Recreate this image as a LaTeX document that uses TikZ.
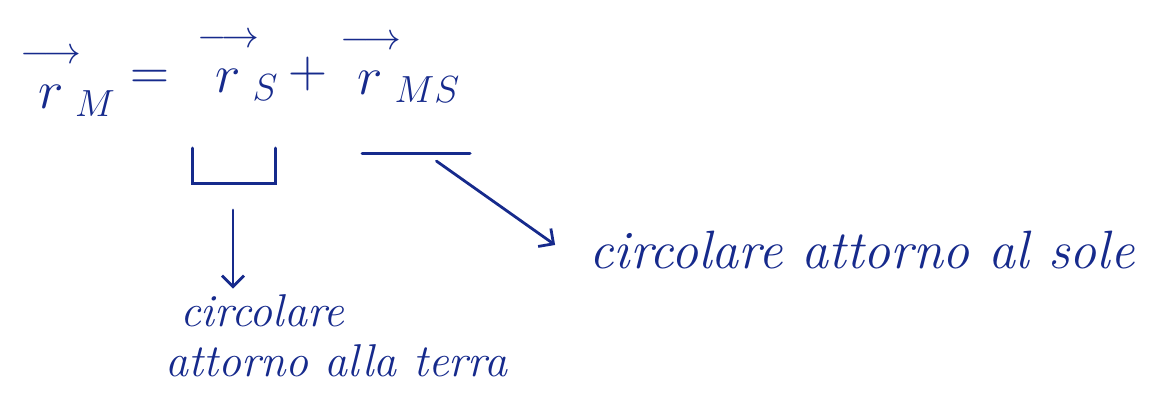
\RequirePackage{fix-cm}
\documentclass[tikz,border=0pt]{standalone}
\usepackage{amsmath}
\usepackage{xcolor}
\usetikzlibrary{arrows.meta}

\definecolor{ink}{RGB}{22,42,140}
\newcommand{\rvec}{\overset{\longrightarrow}{\rule{0pt}{0.75em}r}}

\tikzset{
    eqn/.style={text=ink, inner sep=0pt, font=\fontsize{54}{60}\selectfont},
    lbl/.style={text=ink, inner sep=0pt, font=\fontsize{46}{52}\selectfont\itshape},
    conn/.style={draw=ink, line width=2.8pt, line cap=round, -{Straight Barb[length=11pt,width=22pt,line width=2.8pt]}},
    brace/.style={draw=ink, line width=3pt, line cap=round},
}

\begin{document}
\begin{tikzpicture}[x=1pt,y=-1pt]
    \useasboundingbox (0,0) rectangle (1156,399);
    % equation
    \node[eqn] (rM) at (68,82) {$\rvec_{\!M}$};
    \node[eqn] (eq) at (150,80) {$=$};
    \node[eqn] (rS) at (238,66) {$\rvec_{\!S}$};
    \node[eqn] (plus) at (308,74) {$+$};
    \node[eqn] (rMS) at (400,68) {$\rvec_{\!MS}$};
    % under the terms
    \draw[brace] (192,148) -- (192,183) -- (275,183) -- (275,148);
    \coordinate (bS) at (233,183);
    \draw[brace] (362,153) -- (470,153);
    \coordinate (bMS) at (425,153);
    % labels
    \node[lbl, align=left, anchor=west] (terra) at (165,336) {\hspace*{15pt}circolare\\[-2pt]attorno alla terra};
    \node[lbl, font=\fontsize{54}{60}\selectfont\itshape] (sole) at (862,250) {circolare attorno al sole};
    % arrows
    \draw[conn, shorten <=27pt, shorten >=6pt] (bS) -- (bS |- terra.north);
    \draw[conn, shorten <=14pt, shorten >=42pt] (bMS) -- (sole.south west);
\end{tikzpicture}
\end{document}
